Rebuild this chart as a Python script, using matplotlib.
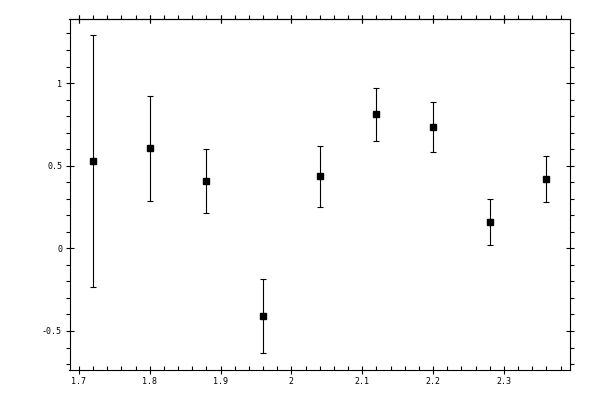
import matplotlib
matplotlib.use("Agg")
import matplotlib.pyplot as plt
from matplotlib.ticker import MultipleLocator, FuncFormatter

x = [1.72, 1.80, 1.88, 1.96, 2.04, 2.12, 2.20, 2.28, 2.36]
y = [0.526, 0.605, 0.405, -0.411, 0.436, 0.811, 0.732, 0.157, 0.417]
err = [0.762, 0.317, 0.194, 0.224, 0.185, 0.160, 0.151, 0.139, 0.139]


def fmt(v, pos):
    s = "%g" % round(v, 3)
    return s


fig = plt.figure(figsize=(6, 4), dpi=100)
ax = fig.add_axes([69.5 / 600, 30 / 400, 500.5 / 600, 351 / 400])

ax.errorbar(x, y, yerr=err, fmt="s", color="black", ms=5, mec="black",
            elinewidth=0.8, capsize=2.5, capthick=0.8)

ax.set_xlim(1.6868, 2.3934)
ax.set_ylim(-0.736, 1.3876)

ax.xaxis.set_major_locator(MultipleLocator(0.1))
ax.xaxis.set_minor_locator(MultipleLocator(0.02))
ax.yaxis.set_major_locator(MultipleLocator(0.5))
ax.yaxis.set_minor_locator(MultipleLocator(0.1))
ax.xaxis.set_major_formatter(FuncFormatter(fmt))
ax.yaxis.set_major_formatter(FuncFormatter(fmt))

for s in ax.spines.values():
    s.set_linewidth(0.8)

ax.tick_params(which="major", direction="inout", length=5.8, width=0.8,
               labelsize=6, top=True, right=True, pad=2.5)
ax.tick_params(axis="x", which="minor", direction="in", length=3, width=0.8,
               bottom=True, top=False)
ax.tick_params(axis="y", which="minor", direction="out", length=3, width=0.8,
               left=True, right=True)

# top axis minor ticks point outward
top = ax.secondary_xaxis("top")
top.xaxis.set_major_locator(MultipleLocator(0.1))
top.xaxis.set_minor_locator(MultipleLocator(0.02))
top.tick_params(which="major", direction="inout", length=5.8, width=0.8,
                labeltop=False)
top.tick_params(which="minor", direction="out", length=3, width=0.8)
top.spines["top"].set_linewidth(0.8)

for lab in ax.get_xticklabels() + ax.get_yticklabels():
    lab.set_family("DejaVu Sans Mono")

fig.savefig("out.png", dpi=100)
